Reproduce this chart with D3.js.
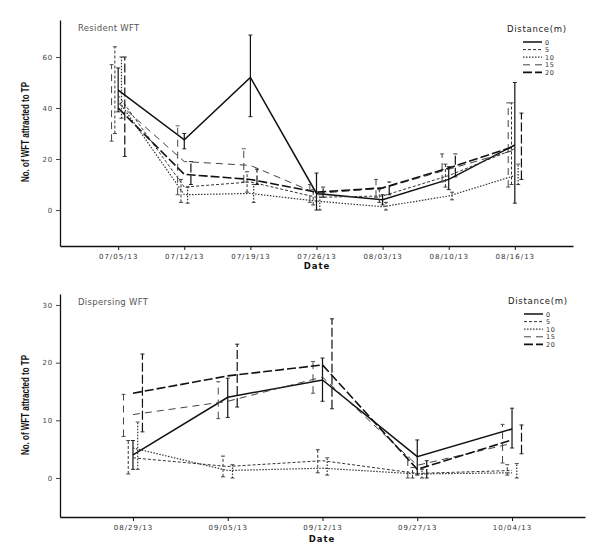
<!DOCTYPE html>
<html><head><meta charset="utf-8">
<script src="https://cdn.jsdelivr.net/npm/d3@7"></script>
<style>body{margin:0;background:#fff}svg{display:block}</style>
</head><body>
<svg id="c" width="596" height="551"></svg>
<script>
// ---------- data ----------
const distances = ["0", "5", "10", "15", "20"];
const residentDates = ["07/05/13","07/12/13","07/19/13","07/26/13","08/03/13","08/10/13","08/16/13"];
const dispersingDates = ["08/29/13","09/05/13","09/12/13","09/27/13","10/04/13"];
const residentTicks = [0, 20, 40, 60];
const dispersingTicks = [0, 10, 20, 30];

// Resident WFT means
const res0  = [47, 27.5, 52, 6.5, 4, 12, 25.5];
const res5  = [45, 9, 11, 5, 5.5, 13.5, 24];
const res10 = [43, 6, 6.5, 3.5, 1.3, 5.5, 13.5];
const res15 = [42, 19, 17.5, 6.5, 8.5, 16, 23.5];
const res20 = [40, 14, 12, 7, 8.7, 16.5, 25];
// Resident error bars [low, high]
const resErr0  = [[38.5,55.7],[24,30],[36.6,68.6],[0,14.5],[2,6],[8,17],[2.7,50]];
const resErr5  = [[30,64],[3,12],[7,15],[2,8],[3,8],[9,18],[10,42]];
const resErr10 = [[36,60],[2.7,9],[3,10],[0,6],[0,3],[4,7],[10,18]];
const resErr15 = [[27,57],[6,33],[11,24],[3,10],[5,12],[11,22],[9,42]];
const resErr20 = [[21,60],[10,19],[10,16],[5,9],[6,11],[13,22],[12,38]];

// Dispersing WFT means
const dis0  = [4, 14, 17, 3.7, 8.5];
const dis5  = [3.5, 2, 3, 0.8, 1.3];
const dis10 = [5.2, 1.3, 1.7, 0.7, 0.9];
const dis15 = [11, 13.3, 17.5, 2.2, 6];
const dis20 = [14.7, 17.7, 19.6, 1.5, 6.6];
// Dispersing error bars [low, high]
const disErr0  = [[1.5,6.5],[10.5,17.3],[13.3,20.8],[0.5,6.6],[5.2,12.1]];
const disErr5  = [[0.7,6.5],[0.2,3.8],[0.9,4.9],[0,1.8],[0.5,2.3]];
const disErr10 = [[1.5,9.7],[0,2.3],[0.5,3.5],[0,1.5],[0,2.5]];
const disErr15 = [[7.2,14.5],[10.3,16.7],[14.7,20.2],[0,3.6],[2.6,9.3]];
const disErr20 = [[8,21.5],[12.3,23.2],[12,27.6],[0,3],[4.2,9.2]];

// ---------- styles ----------
const styles = {
  "0":  {dash: null,      w: 1.5, c: "#111", dodge: 0},
  "5":  {dash: "3,2",     w: 1.0, c: "#333", dodge: -1},
  "10": {dash: "1.5,1.5", w: 1.2, c: "#333", dodge: 1},
  "15": {dash: "7,5",     w: 1.0, c: "#444", dodge: -2},
  "20": {dash: "9,3",     w: 1.6, c: "#111", dodge: 2}
};

const svg = d3.select("#c");
const tickFont = "DejaVu Sans, Verdana, sans-serif";

function panel(cfg) {
  const x = d3.scalePoint().domain(cfg.dates).range([cfg.x0, cfg.x1]).padding(cfg.pad);
  const y = d3.scaleLinear().domain(cfg.yDomain).range([cfg.yBottom, cfg.yTop]);
  const g = svg.append("g");

  // axes
  const xAxis = g.append("g").attr("transform", `translate(0,${cfg.yBottom})`)
    .call(d3.axisBottom(x).tickSize(4).tickSizeOuter(0));
  xAxis.select(".domain").attr("stroke", "#111").attr("stroke-width", 1.3);
  xAxis.selectAll(".tick line").attr("stroke", "#111");
  xAxis.selectAll(".tick text").attr("font-family", tickFont).attr("font-size", 7)
    .attr("letter-spacing", 1).attr("fill", "#333").attr("dy", "0.9em");

  const yAxis = g.append("g").attr("transform", `translate(${cfg.x0},0)`)
    .call(d3.axisLeft(y).tickValues(cfg.ticks).tickSize(4).tickSizeOuter(0));
  yAxis.select(".domain").attr("stroke", "#111").attr("stroke-width", 1.3);
  yAxis.selectAll(".tick line").attr("stroke", "#444");
  yAxis.selectAll(".tick text").attr("font-family", tickFont).attr("font-size", 7)
    .attr("letter-spacing", 0.8).attr("fill", "#444");

  // series
  const step = x.step();
  cfg.series.forEach((s, i) => {
    const st = styles[distances[i]];
    const line = d3.line().x((d, j) => x(cfg.dates[j])).y(d => y(d));
    g.append("path").datum(s.mean).attr("d", line).attr("fill", "none")
      .attr("stroke", st.c).attr("stroke-width", st.w)
      .attr("stroke-dasharray", st.dash);
    s.err.forEach((e, j) => {
      const cx = x(cfg.dates[j]) + st.dodge * 0.05 * step;
      const eg = g.append("g").attr("stroke", st.c).attr("stroke-width", Math.min(st.w, 1.2));
      eg.append("line").attr("x1", cx).attr("x2", cx).attr("y1", y(e[0])).attr("y2", y(e[1]))
        .attr("stroke-dasharray", st.dash);
      [e[0], e[1]].forEach(v => eg.append("line").attr("x1", cx - 2).attr("x2", cx + 2)
        .attr("y1", y(v)).attr("y2", y(v)).attr("stroke-width", 0.9));
    });
  });

  // titles
  g.append("text").attr("x", cfg.x0 + 18).attr("y", cfg.yTop + 11).text(cfg.title)
    .attr("font-family", tickFont).attr("font-size", 8.5).attr("letter-spacing", 0.3).attr("fill", "#555");
  g.append("text").attr("transform", `translate(29,${cfg.ylabelY}) rotate(-90)`)
    .attr("text-anchor", "middle").text("No. of WFT attracted to TP")
    .attr("font-family", "Liberation Sans Narrow, Arial Narrow, sans-serif")
    .attr("font-weight", "bold").attr("font-size", 11).attr("fill", "#111")
    .attr("textLength", 100).attr("lengthAdjust", "spacingAndGlyphs");
  g.append("text").attr("x", cfg.dateX).attr("y", cfg.dateY).attr("text-anchor", "middle")
    .text("Date").attr("font-family", tickFont).attr("font-weight", "bold")
    .attr("font-size", 8.5).attr("letter-spacing", 1).attr("fill", "#111");

  // legend
  const lg = g.append("g");
  lg.append("text").attr("x", cfg.legX).attr("y", cfg.legY).text("Distance(m)")
    .attr("font-family", tickFont).attr("font-size", 8.5).attr("letter-spacing", 0.7).attr("fill", "#222");
  distances.forEach((d, i) => {
    const st = styles[d];
    const ly = cfg.legY + 10 + i * 7.6;
    lg.append("line").attr("x1", cfg.legX + 16).attr("x2", cfg.legX + 35)
      .attr("y1", ly).attr("y2", ly).attr("stroke", st.c).attr("stroke-width", st.w)
      .attr("stroke-dasharray", st.dash);
    lg.append("text").attr("x", cfg.legX + 38).attr("y", ly + 2.5).text(d)
      .attr("font-family", tickFont).attr("font-size", 6.5).attr("letter-spacing", 0.6).attr("fill", "#333");
  });
}

panel({
  dates: residentDates, x0: 60, x1: 573, pad: 0.88,
  yDomain: [-14.1, 74.5], yBottom: 246, yTop: 20, ticks: residentTicks,
  title: "Resident WFT", ylabelY: 132, dateX: 317, dateY: 269,
  legX: 507, legY: 32,
  series: [
    {mean: res0, err: resErr0}, {mean: res5, err: resErr5}, {mean: res10, err: resErr10},
    {mean: res15, err: resErr15}, {mean: res20, err: resErr20}
  ]
});

panel({
  dates: dispersingDates, x0: 60, x1: 585, pad: 0.77,
  yDomain: [-6.76, 31.9], yBottom: 517, yTop: 294, ticks: dispersingTicks,
  title: "Dispersing WFT", ylabelY: 405, dateX: 322, dateY: 542,
  legX: 508, legY: 304,
  series: [
    {mean: dis0, err: disErr0}, {mean: dis5, err: disErr5}, {mean: dis10, err: disErr10},
    {mean: dis15, err: disErr15}, {mean: dis20, err: disErr20}
  ]
});
</script>
</body></html>
